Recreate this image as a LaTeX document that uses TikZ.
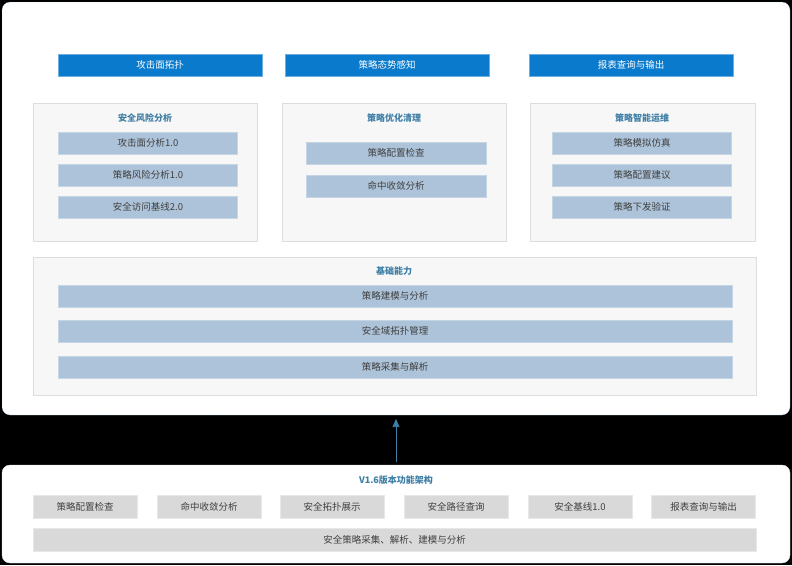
\documentclass[tikz,border=0pt]{standalone}
\usepackage{fontspec}
\setmainfont{Noto Sans CJK SC}
\usetikzlibrary{arrows.meta}
\definecolor{barblue}{HTML}{0A7ACC}
\definecolor{itemblue}{HTML}{ADC3D9}
\definecolor{titleblue}{HTML}{3F7FA6}
\definecolor{groupfill}{HTML}{F7F7F7}
\definecolor{groupline}{HTML}{DDDDDD}
\definecolor{greybox}{HTML}{D9D9D9}
\tikzset{
  topbar/.style={fill=barblue,draw=barblue!60,text=white,font=\fontsize{9.5}{11}\selectfont,inner sep=0pt},
  itembox/.style={fill=itemblue,draw=itemblue!70!white,text=black!75,font=\fontsize{9.5}{11}\selectfont,inner sep=0pt},
  groupbox/.style={fill=groupfill,draw=groupline},
  grouptitle/.style={text=titleblue,font=\bfseries\fontsize{9}{11}\selectfont},
  basebox/.style={fill=greybox,draw=greybox!60!white,text=black!75,font=\fontsize{9.5}{11}\selectfont,inner sep=0pt},
}
\begin{document}
\begin{tikzpicture}[x=1pt,y=-1pt]
  \useasboundingbox (0,0) rectangle (792,565);
  \fill[black] (0,0) rectangle (792,565);
  %%% upper panel
  \draw[fill=white,draw=titleblue,densely dotted,rounded corners=8pt] (2,2) rectangle (790,415);
  \node[topbar,minimum width=204pt,minimum height=22pt] (attack) at (160,65) {攻击面拓扑};
  \node[topbar,minimum width=204pt,minimum height=22pt] (aware) at (387,65) {策略态势感知};
  \node[topbar,minimum width=204pt,minimum height=22pt] (report) at (631,65) {报表查询与输出};
  % groups
  \draw[groupbox] (33,103) rectangle (257,241);
  \draw[groupbox] (282,103) rectangle (506,241);
  \draw[groupbox] (530,103) rectangle (755,241);
  \node[grouptitle] (risk) at (145,118) {安全风险分析};
  \node[grouptitle] (clean) at (394,118) {策略优化清理};
  \node[grouptitle] (ops) at (642,118) {策略智能运维};
  \foreach \y/\t/\n in {143/攻击面分析1.0/r1,175/策略风险分析1.0/r2,207/安全访问基线2.0/r3}
    \node[itembox,minimum width=179pt,minimum height=22pt] (\n) at (148,\y) {\t};
  \foreach \y/\t/\n in {153/策略配置检查/c1,186/命中收敛分析/c2}
    \node[itembox,minimum width=180pt,minimum height=22pt] (\n) at (396,\y) {\t};
  \foreach \y/\t/\n in {143/策略模拟仿真/o1,175/策略配置建议/o2,207/策略下发验证/o3}
    \node[itembox,minimum width=179pt,minimum height=22pt] (\n) at (642,\y) {\t};
  % base capability
  \draw[groupbox] (33,257) rectangle (756,395);
  \node[grouptitle] (base) at (394,271) {基础能力};
  \foreach \y/\t/\n in {296/策略建模与分析/b1,331/安全域拓扑管理/b2,367/策略采集与解析/b3}
    \node[itembox,minimum width=674pt,minimum height=22pt] (\n) at (395,\y) {\t};
  %%% lower panel
  \draw[fill=white,draw=groupline,rounded corners=8pt] (2,465) rectangle (790,563);
  \node[grouptitle] (ver) at (396,480) {V1.6版本功能架构};
  \foreach \x/\t/\n in {85/策略配置检查/v1,209/命中收敛分析/v2,332/安全拓扑展示/v3,456/安全路径查询/v4,580/安全基线1.0/v5,703.5/报表查询与输出/v6}
    \node[basebox,minimum width=104pt,minimum height=23pt] (\n) at (\x,506.5) {\t};
  \node[basebox,minimum width=723pt,minimum height=23pt] (all) at (394.5,539.5) {安全策略采集、解析、建模与分析};
  \coordinate (up) at (396,419);
  \draw[-{Triangle[length=8pt,width=7pt]},titleblue,semithick] (ver.north |- 0,462) -- (up);
\end{tikzpicture}
\end{document}
